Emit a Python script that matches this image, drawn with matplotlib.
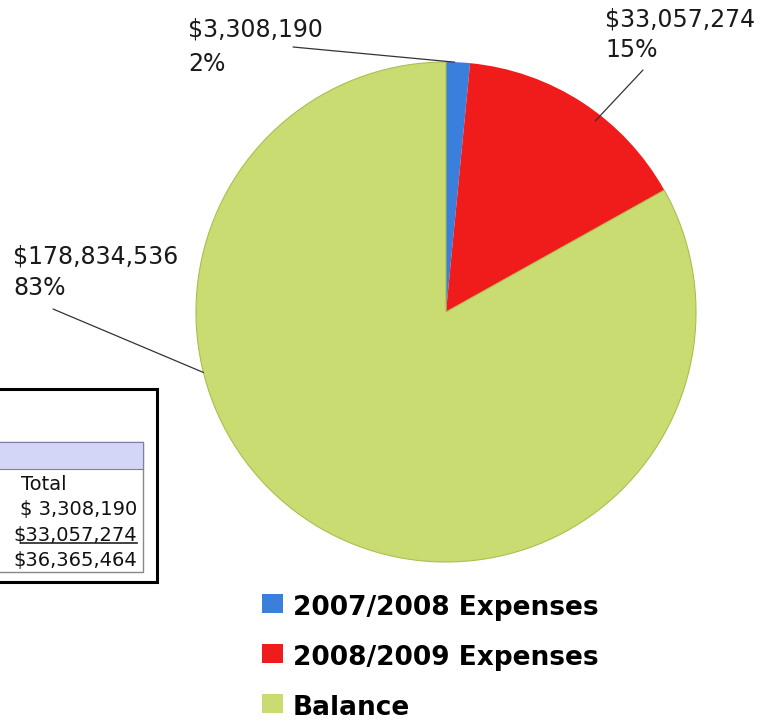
import matplotlib
matplotlib.use("Agg")
import matplotlib.pyplot as plt
import matplotlib.patches as patches
import numpy as np

# data
categories = ["2007/2008 Expenses", "2008/2009 Expenses", "Balance"]
amounts = [3308190, 33057274, 178834536]
colors = ["#3b7fdc", "#f01c1c", "#c9dc72"]
table_header = "Total"

W, H = 775, 723
fig = plt.figure(figsize=(W / 100, H / 100), dpi=100)
plt.rcParams['font.family'] = ['DejaVu Sans']


def fx(x):
    return x / W


def fy(y):
    return 1 - y / H


# pie: centre (446, 312), radius 250 px
cx, cy, r = 446, 312, 250
ax = fig.add_axes([fx(cx - r), fy(cy + r), 2 * r / W, 2 * r / H])
wedges, _ = ax.pie(amounts, colors=colors, startangle=90, counterclock=False,
                   radius=1, wedgeprops=dict(edgecolor='none'))
wedges[2].set_edgecolor("#a9bf50")
wedges[2].set_linewidth(0.8)
ax.set_xlim(-1, 1)
ax.set_ylim(-1, 1)
ax.set_aspect('equal')
ax.axis('off')

total = sum(amounts)
pct = [round(a / total * 100) for a in amounts]

# label placement (pixels): text x, first baseline, second baseline, leader start, leader angle/radius
label_pos = [
    (188, 37, 71, (293, 47), 88, 1.0),
    (605, 27, 57, (643, 70), 52, 0.97),
    (13, 263, 295, (53, 309), 194, 1.0),
]
for a, p, (tx, b1, b2, (lx, ly), ang, rr) in zip(amounts, pct, label_pos):
    fig.text(fx(tx), fy(b1), f"${a:,}", fontsize=17, va='baseline', ha='left', color='#1a1a1a')
    fig.text(fx(tx), fy(b2), f"{p}%", fontsize=17, va='baseline', ha='left', color='#1a1a1a')
    ex = rr * np.cos(np.deg2rad(ang))
    ey = rr * np.sin(np.deg2rad(ang))
    ax.annotate("", xy=(ex, ey), xycoords='data',
                xytext=(fx(lx), fy(ly)), textcoords='figure fraction',
                arrowprops=dict(arrowstyle='-', color='#333333', lw=0.9,
                                shrinkA=0, shrinkB=0))

# table box on the left
fig.patches.append(patches.Rectangle((fx(-5), fy(582)), (157 + 5) / W, (582 - 389) / H,
                                     transform=fig.transFigure, fill=False,
                                     edgecolor='black', lw=2.2))
fig.patches.append(patches.Rectangle((fx(-5), fy(572)), (143 + 5) / W, (572 - 442) / H,
                                     transform=fig.transFigure, fill=False,
                                     edgecolor='#888888', lw=1))
fig.patches.append(patches.Rectangle((fx(-5), fy(469)), (143 + 5) / W, (469 - 442) / H,
                                     transform=fig.transFigure, facecolor='#d3d6f7',
                                     edgecolor='#7c7fa8', lw=0.8))
fig.text(fx(21), fy(490), table_header, fontsize=14, va='baseline', ha='left', color='#111111')
table_rows = [f"$ {amounts[0]:,}", f"${amounts[1]:,}", f"${amounts[0] + amounts[1]:,}"]
for i, s in enumerate(table_rows):
    fig.text(fx(137), fy(515 + i * 25.5), s, fontsize=14, va='baseline', ha='right', color='#111111')
fig.lines.append(plt.Line2D([fx(21), fx(137)], [fy(543), fy(543)],
                            transform=fig.transFigure, color='#222222', lw=1.2))

# legend
for i, (c, name) in enumerate(zip(colors, categories)):
    base = 615 + i * 50
    fig.patches.append(patches.Rectangle((fx(262), fy(base - 2)), 21 / W, 19 / H,
                                         transform=fig.transFigure, facecolor=c,
                                         edgecolor='none'))
    fig.text(fx(293), fy(base), name, fontsize=19, fontweight='bold',
             va='baseline', ha='left', color='black')

fig.savefig("out.png", dpi=100)
